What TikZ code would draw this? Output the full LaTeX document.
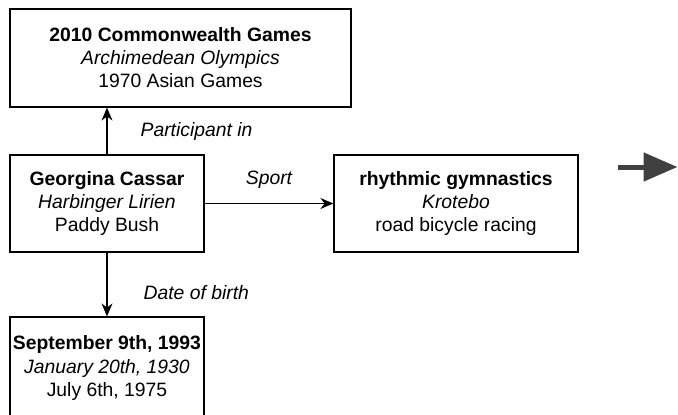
\documentclass[tikz,border=0pt]{standalone}
\usepackage{fontspec}
\setmainfont{Liberation Sans}
\usepackage{tikz}
\usetikzlibrary{arrows.meta}

\begin{document}
\begin{tikzpicture}
	\tikzset{
		box/.style={draw,line width=0.7pt,align=center,inner sep=0pt,
			font=\fontsize{11pt}{13.1pt}\selectfont},
		rel/.style={line width=0.7pt,-{Stealth[length=0.26cm,width=0.22cm]}},
		lbl/.style={inner sep=0pt,font=\fontsize{11pt}{13.1pt}\selectfont\itshape}}
	\useasboundingbox (0,0) rectangle (13.56,-8.28);
	\node[box,minimum width=6.82cm,minimum height=1.96cm](games) at (3.61,-1.16){\textbf{2010 Commonwealth Games}\\\textit{Archimedean Olympics}\\1970 Asian Games};
	\node[box,minimum width=3.88cm,minimum height=1.94cm](person) at (2.14,-4.07){\textbf{Georgina Cassar}\\\textit{Harbinger Lirien}\\Paddy Bush};
	\node[box,minimum width=4.88cm,minimum height=1.94cm](sport) at (9.12,-4.07){\textbf{rhythmic gymnastics}\\\textit{Krotebo}\\road bicycle racing};
	\node[box,minimum width=3.88cm,minimum height=2.04cm](birth) at (2.14,-7.36){\textbf{September 9th, 1993}\\\textit{January 20th, 1930}\\July 6th, 1975};
	\draw[rel](person.north)--(person.north |- games.south) node[lbl,midway,anchor=west,xshift=0.66cm]{Participant in};
	\draw[rel](person)--(sport) node[lbl,midway,yshift=0.48cm]{Sport};
	\draw[rel](person)--(birth) node[lbl,midway,anchor=west,xshift=0.72cm,yshift=-0.17cm]{Date of birth};
	% arrow on the right
	\coordinate (p) at (12.36,-3.34);
	\coordinate (q) at (13.55,-3.34);
	\draw[line width=0.1cm,color=black!75,-{Triangle[length=0.68cm,width=0.56cm]}](p)--(q);
\end{tikzpicture}
\end{document}
